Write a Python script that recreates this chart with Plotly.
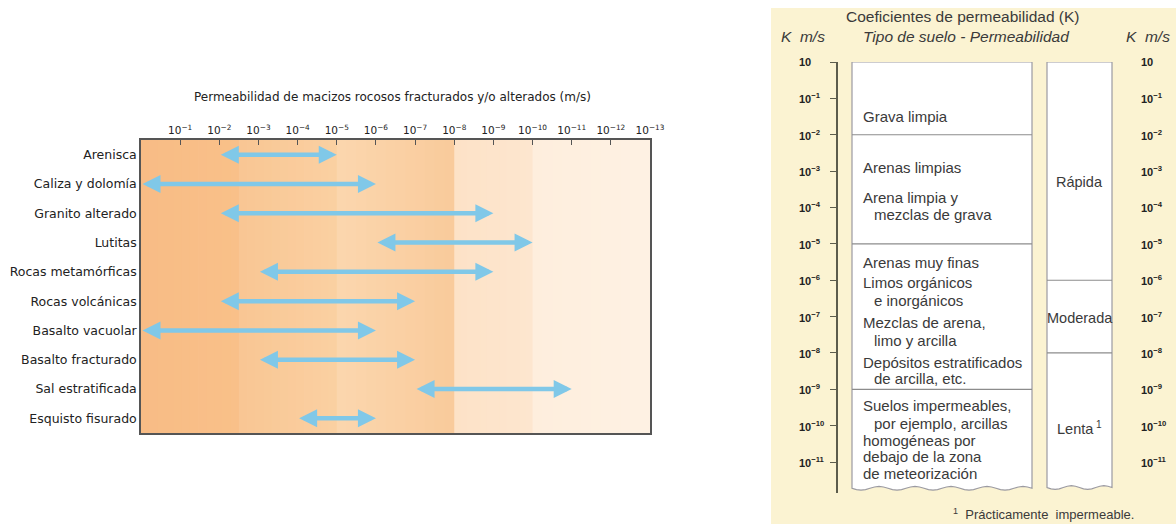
import numpy as np
import plotly.graph_objects as go

REF_W, H = 1176, 524   # layout positions below are given on a 1176 x 524 grid
FIG_W = 1191           # figure width; the page is squeezed to 1176 when shown

# ---------------- Rock masses (left chart) ----------------
rocks = ["Arenisca", "Caliza y dolomía", "Granito alterado", "Lutitas",
         "Rocas metamórficas", "Rocas volcánicas", "Basalto vacuolar",
         "Basalto fracturado", "Sal estratificada", "Esquisto fisurado"]
# log10 of permeability K (m/s): upper and lower limits of each range
k_upper_exp = [-2, 0, -2, -6, -3, -2, 0, -3, -7, -4]
k_lower_exp = [-5, -6, -9, -10, -9, -7, -6, -7, -11, -6]

scale_exps = list(range(-1, -14, -1))
scale_labels = [f"10<sup>−{-e}</sup>" for e in scale_exps]

class_names = ["Muy alta", "Alta", "Media", "Baja", "Muy baja"]
class_exps = [0, -2.5, -5, -8, -10]
# background tint for each permeability class (left colour, right colour)
class_colors = [("#f8bc85", "#f9c089"), ("#f9c693", "#fad0a2"),
                ("#fbd6ae", "#f9cb9b"), ("#fde2c7", "#fde6cf"),
                ("#feeedd", "#fef1e3")]
x_end = 13

# ---------------- Soil coefficients (right chart) ----------------
k_exps = list(range(0, -12, -1))
k_labels = ["10"] + [f"10<sup>−{-e}</sup>" for e in k_exps[1:]]
soil_limits = [-2, -5, -9]          # dividers in "Tipo de suelo" column
rate_limits = [-6, -8]              # dividers in permeability column
k_bottom = -11.72

soil_lines = [
    ("Grava limpia", -1.5, 0),
    ("Arenas limpias", -2.9, 0),
    ("Arena limpia y", -3.72, 0),
    ("mezclas de grava", -4.2, 1),
    ("Arenas muy finas", -5.5, 0),
    ("Limos orgánicos", -6.07, 0),
    ("e inorgánicos", -6.55, 1),
    ("Mezclas de arena,", -7.15, 0),
    ("limo y arcilla", -7.65, 1),
    ("Depósitos estratificados", -8.25, 0),
    ("de arcilla, etc.", -8.7, 1),
    ("Suelos impermeables,", -9.44, 0),
    ("por ejemplo, arcillas", -9.93, 1),
    ("homogéneas por", -10.4, 0),
    ("debajo de la zona", -10.86, 0),
    ("de meteorización", -11.3, 0),
]
rate_names = ["Rápida", "Moderada", "Lenta<sup> 1</sup>"]
rate_text_y = [-3.3, -7.05, -10.05]


def px(x):
    return x / REF_W


def py(y):
    return 1 - y / H


fig = go.Figure()
shapes = []
annotations = []

# invisible anchor traces so every axis is drawn
fig.add_trace(go.Scatter(x=[0], y=[0], mode="markers", marker=dict(opacity=0),
                         xaxis="x", yaxis="y", hoverinfo="skip", showlegend=False))
fig.add_trace(go.Scatter(x=[900], y=[-1], mode="markers", marker=dict(opacity=0),
                         xaxis="x2", yaxis="y2", hoverinfo="skip", showlegend=False))

# ---- class background bands, drawn as thin strips for a soft gradient
bounds = [-e for e in class_exps] + [x_end]
for (c0, c1), a, b in zip(class_colors, bounds[:-1], bounds[1:]):
    h0 = np.array([int(c0[i:i + 2], 16) for i in (1, 3, 5)], float)
    h1 = np.array([int(c1[i:i + 2], 16) for i in (1, 3, 5)], float)
    n = 12
    edges = np.linspace(a, b, n + 1)
    for j in range(n):
        c = h0 + (h1 - h0) * (j + 0.5) / n
        shapes.append(dict(type="rect", xref="x", yref="y domain",
                           x0=edges[j], x1=edges[j + 1] + 0.02, y0=0, y1=1,
                           fillcolor="rgb(%d,%d,%d)" % tuple(c.round()),
                           line=dict(width=0), layer="below"))

# ---- range arrows
arrow_color = "#80c8e8"
for i, (hi, lo) in enumerate(zip(k_upper_exp, k_lower_exp)):
    annotations.append(dict(
        x=-lo, y=i, ax=-hi, ay=i, xref="x", yref="y", axref="x", ayref="y",
        text="", showarrow=True, arrowside="end+start",
        arrowhead=2, startarrowhead=2, arrowsize=0.8, startarrowsize=0.8,
        arrowwidth=4.5, arrowcolor=arrow_color, standoff=0, startstandoff=0))


def paper_text(text, x, y, font, xanchor="center"):
    return dict(text=text, xref="paper", yref="paper", x=px(x), y=py(y),
                xanchor=xanchor, yanchor="middle", showarrow=False, font=font)


annotations.append(paper_text(
    "Permeabilidad de macizos rocosos fracturados y/o alterados (m/s)", 392, 97,
    dict(family="DejaVu Sans", size=12, color="#222222")))

# ---- right panel background
shapes.append(dict(type="rect", xref="paper", yref="paper",
                   x0=px(771), x1=1, y0=0, y1=py(8),
                   fillcolor="#fbf3d2", line=dict(width=0), layer="below"))


def box_path(x0, x1, top, bottom, waves):
    """Rectangle with a ragged (torn-paper) bottom edge."""
    xs = np.linspace(x1, x0, waves * 8 + 1)
    ys = bottom + 0.05 * np.sin(np.linspace(0, waves * 2 * np.pi, xs.size))
    d = f"M {x0},{top} L {x1},{top} "
    d += " ".join(f"L {x:.2f},{y:.3f}" for x, y in zip(xs, ys))
    return d + " Z"


box_line = dict(color="#9b9aa2", width=1.2)
soil_x = (852, 1032)
rate_x = (1047, 1112)
shapes.append(dict(type="path", xref="x2", yref="y2",
                   path=box_path(*soil_x, 0, k_bottom, 5),
                   fillcolor="white", line=box_line))
shapes.append(dict(type="path", xref="x2", yref="y2",
                   path=box_path(*rate_x, 0, k_bottom + 0.02, 2),
                   fillcolor="white", line=box_line))
for e in soil_limits:
    shapes.append(dict(type="line", xref="x2", yref="y2", x0=soil_x[0],
                       x1=soil_x[1], y0=e, y1=e, line=dict(color="#8c8c8c", width=1.2)))
for e in rate_limits:
    shapes.append(dict(type="line", xref="x2", yref="y2", x0=rate_x[0],
                       x1=rate_x[1], y0=e, y1=e, line=dict(color="#8c8c8c", width=1.2)))

soil_font = dict(family="Liberation Sans, Arial", size=15, color="#3a3a3a")
for txt, yv, indent in soil_lines:
    annotations.append(dict(text=txt, xref="x2", yref="y2", x=861 + 11 * indent,
                            y=yv, xanchor="left", yanchor="middle",
                            showarrow=False, font=soil_font))
rate_font = dict(family="Liberation Sans, Arial", size=14.5, color="#3a3a3a")
for txt, yv in zip(rate_names, rate_text_y):
    annotations.append(dict(text=txt, xref="x2", yref="y2", x=sum(rate_x) / 2,
                            y=yv, xanchor="center", yanchor="middle",
                            showarrow=False, font=rate_font))

tick_font = dict(family="Liberation Sans, Arial", size=11, color="#222222")
for e, lab in zip(k_exps, k_labels):
    for xl in (797, 1139):
        annotations.append(dict(text=f"<b>{lab}</b>", xref="paper", yref="y2",
                                x=px(xl), y=e, xanchor="left", yanchor="middle",
                                showarrow=False, font=tick_font))

head_font = dict(family="Liberation Sans, Arial", size=15.5, color="#3a3a3a")
annotations += [
    paper_text("Coeficientes de permeabilidad (K)", 962, 16, head_font),
    paper_text("<i>K  m/s</i>", 803, 37, head_font),
    paper_text("<i>Tipo de suelo - Permeabilidad</i>", 966, 37, head_font),
    paper_text("<i>K  m/s</i>", 1148, 37, head_font),
    paper_text("<sup>1</sup>  Prácticamente  impermeable.", 1043, 514,
               dict(family="Liberation Sans, Arial", size=13, color="#3a3a3a")),
]

axis_dark = "#555555"
left_font = dict(family="DejaVu Sans", size=12.5, color="#222222")
fig.update_layout(
    width=FIG_W, height=H, autosize=False, margin=dict(l=0, r=0, t=0, b=0),
    paper_bgcolor="white", plot_bgcolor="rgba(0,0,0,0)", showlegend=False,
    shapes=shapes, annotations=annotations,
    xaxis=dict(domain=[px(141), px(650)], range=[0, x_end], side="top",
               anchor="y", tickmode="array", tickvals=[-e for e in scale_exps],
               ticktext=scale_labels, ticks="inside", ticklen=5, tickwidth=1.2,
               tickcolor=axis_dark, showline=True, mirror=True, linecolor=axis_dark,
               linewidth=1.5, showgrid=False, zeroline=False,
               tickfont=dict(family="DejaVu Sans", size=10.5, color="#222222")),
    xaxis3=dict(overlaying="x", anchor="y", side="bottom", range=[0, x_end],
                tickmode="array", tickvals=[-e for e in class_exps],
                ticktext=class_names, ticks="inside", ticklen=6, tickwidth=1.2,
                tickcolor=axis_dark, showline=False, showgrid=False, zeroline=False,
                tickfont=dict(family="DejaVu Sans", size=11.5, color="#222222")),
    yaxis=dict(domain=[py(433), py(140)], range=[len(rocks) - 0.5, -0.5],
               anchor="x", tickmode="array", tickvals=list(range(len(rocks))),
               ticktext=rocks, ticks="", showline=True, mirror=True,
               linecolor=axis_dark, linewidth=1.5, showgrid=False, zeroline=False,
               tickfont=left_font),
    xaxis2=dict(domain=[px(838), px(1126)], range=[838, 1126], anchor="y2",
                visible=False),
    yaxis2=dict(domain=[py(493), py(62)], range=[-11.85, 0], anchor="x2",
                tickmode="array", tickvals=k_exps, showticklabels=False,
                ticks="outside", ticklen=6, tickwidth=1.2, tickcolor="#5c5c4c",
                showline=True, linecolor="#5c5c4c", linewidth=1.5,
                showgrid=False, zeroline=False),
    yaxis3=dict(overlaying="y2", anchor="x2", side="right", range=[-11.85, 0],
                tickmode="array", tickvals=k_exps, showticklabels=False,
                ticks="outside", ticklen=6, tickwidth=1.2, tickcolor="#5c5c4c",
                showline=True, linecolor="#5c5c4c", linewidth=1.5,
                showgrid=False, zeroline=False),
)

fig.write_html("out.html", config={"displayModeBar": False})
